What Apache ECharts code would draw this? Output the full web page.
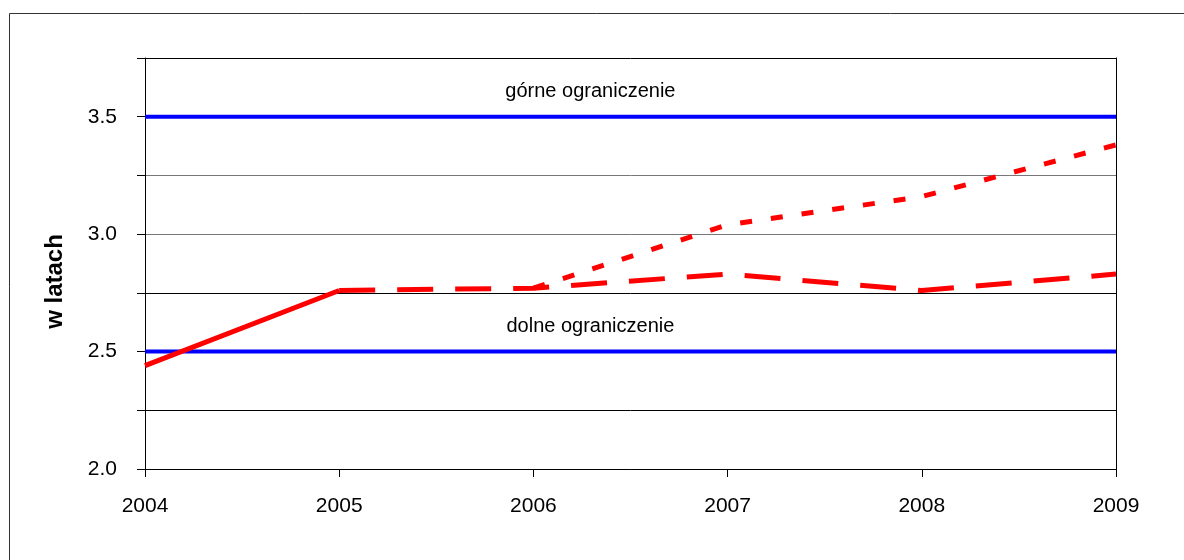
<!DOCTYPE html>
<html>
<head>
<meta charset="utf-8">
<script src="https://cdn.jsdelivr.net/npm/echarts@6/dist/echarts.min.js"></script>
<style>
  html, body { margin: 0; padding: 0; background: #fff; }
  #chart { width: 1184px; height: 560px; }
</style>
</head>
<body>
<div id="chart"></div>
<script>
// lata i wartości
var years = ['2004', '2005', '2006', '2007', '2008', '2009'];
var pastValues = [2.44, 2.76, null, null, null, null];
var centralPath = [null, 2.76, 2.77, 2.83, 2.76, 2.83];
var upperPath = [null, null, 2.77, 3.04, 3.16, 3.38];
var upperLimit = [3.5, 3.5, 3.5, 3.5, 3.5, 3.5];
var lowerLimit = [2.5, 2.5, 2.5, 2.5, 2.5, 2.5];
var yTicks = [2.0, 2.5, 3.0, 3.5];

var myChart = echarts.init(document.getElementById('chart'), null, { renderer: 'canvas' });

// podpis nad linią ograniczenia (kotwica w 2006, przesunięty w prawo)
function limitLabel(text, value) {
    return {
        symbol: 'circle',
        symbolSize: 0,
        label: { show: true, color: '#000', fontSize: 20, formatter: text, offset: [57, -25] },
        data: [{ coord: ['2006', value] }]
    };
}

var option = {
    backgroundColor: '#fff',
    animation: false,
    textStyle: { fontFamily: 'Liberation Sans, Arial, sans-serif' },
    grid: { left: 145, right: 68, top: 58, bottom: 91 },
    xAxis: {
        type: 'category',
        data: years,
        boundaryGap: false,
        axisLine: { lineStyle: { color: '#000', width: 1 } },
        axisTick: { show: true, length: 8, lineStyle: { color: '#000' } },
        axisLabel: { color: '#000', fontSize: 21, margin: 27 },
        splitLine: { show: false }
    },
    yAxis: [
        {
            type: 'value',
            min: 2.0,
            max: 3.75,
            interval: 0.25,
            name: 'w latach',
            nameLocation: 'middle',
            nameGap: 78,
            nameTextStyle: { fontSize: 24, fontWeight: 'bold', color: '#000', padding: [0, 0, 0, -36] },
            axisLine: { show: true, lineStyle: { color: '#000', width: 1 } },
            axisTick: { show: true, length: 8, lineStyle: { color: '#000' } },
            axisLabel: {
                color: '#000',
                fontSize: 21,
                margin: 28,
                formatter: function (v) {
                    for (var i = 0; i < yTicks.length; i++) {
                        if (Math.abs(yTicks[i] - v) < 1e-6) return yTicks[i].toFixed(1);
                    }
                    return '';
                }
            },
            splitLine: {
                show: true,
                lineStyle: { color: ['#000', '#000', '#000', '#000', '#777', '#777', '#000', '#000'], width: 1 }
            }
        },
        {
            type: 'value',
            position: 'right',
            min: 2.0,
            max: 3.75,
            axisLine: { show: true, onZero: false, lineStyle: { color: '#000', width: 1 } },
            axisTick: { show: false },
            axisLabel: { show: false },
            splitLine: { show: false }
        }
    ],
    series: [
        {
            name: 'górne ograniczenie',
            type: 'line',
            data: upperLimit,
            symbol: 'none',
            lineStyle: { color: '#0000ff', width: 4 },
            markPoint: limitLabel('górne ograniczenie', 3.5),
            z: 3
        },
        {
            name: 'dolne ograniczenie',
            type: 'line',
            data: lowerLimit,
            symbol: 'none',
            lineStyle: { color: '#0000ff', width: 4 },
            markPoint: limitLabel('dolne ograniczenie', 2.5),
            z: 3
        },
        {
            name: 'dane',
            type: 'line',
            data: pastValues,
            symbol: 'none',
            lineStyle: { color: '#ff0000', width: 5 },
            z: 4
        },
        {
            name: 'wariant bazowy',
            type: 'line',
            data: centralPath,
            symbol: 'none',
            lineStyle: { color: '#ff0000', width: 5, type: [36, 22] },
            z: 4
        },
        {
            name: 'wariant górny',
            type: 'line',
            data: upperPath,
            symbol: 'none',
            lineStyle: { color: '#ff0000', width: 5, type: [12, 19] },
            z: 4
        }
    ],
    graphic: [
        { type: 'line', shape: { x1: 9.5, y1: 13.5, x2: 1184, y2: 13.5 }, style: { stroke: '#333', lineWidth: 1 } },
        { type: 'line', shape: { x1: 9.5, y1: 13.5, x2: 9.5, y2: 560 }, style: { stroke: '#333', lineWidth: 1 } }
    ]
};
myChart.setOption(option, true);
</script>
</body>
</html>
